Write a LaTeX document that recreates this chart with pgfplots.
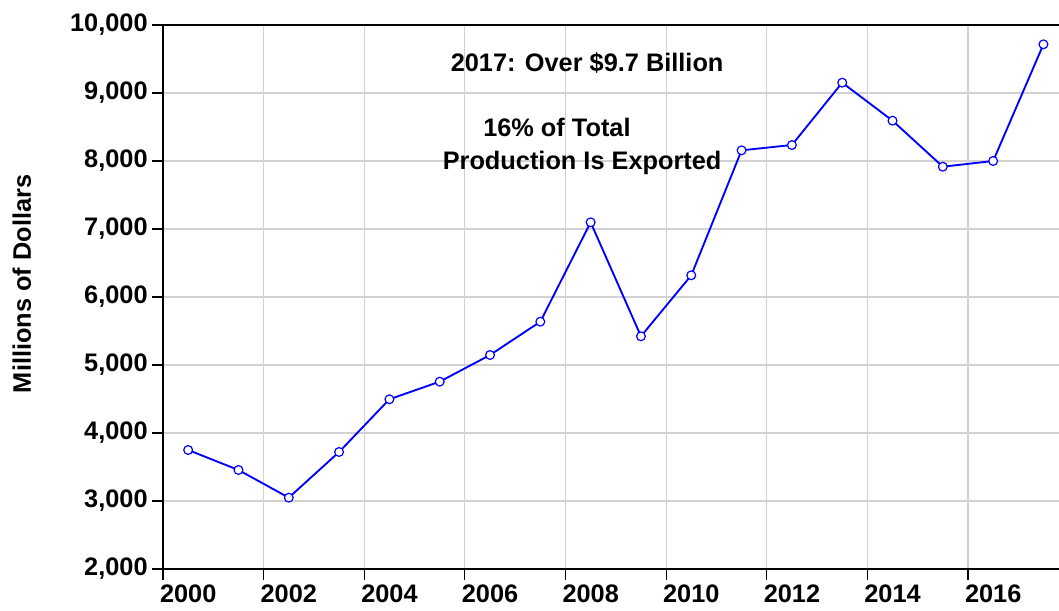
\documentclass[border=0pt]{standalone}
\usepackage{fontspec}
\setmainfont{Liberation Sans}
\usepackage{pgfplots}
\pgfplotsset{compat=1.18}
\newcommand\lbl{\fontsize{19}{22}\selectfont\bfseries}
\definecolor{lineBlue}{RGB}{0,0,255}
\definecolor{gridGray}{RGB}{210,210,210}
\begin{document}
\begin{tikzpicture}
\useasboundingbox (0,0) rectangle (794.25pt,457.5pt);
\begin{axis}[
    at={(122.25pt,30.75pt)}, anchor=south west,
    scale only axis,
    width=679.2pt, height=408pt,
    xmin=2000, xmax=2018,
    ymin=2000, ymax=10000,
    xtick={2000,2002,...,2016},
    xticklabels={2000,2002,2004,2006,2008,2010,2012,2014,2016},
    xticklabel style={xshift=18.9pt},
    minor x tick num=1,
    ytick={2000,3000,...,10000},
    scaled y ticks=false,
    /pgf/number format/.cd, 1000 sep={,}, assume math mode=true,
    /pgfplots/.cd,
    tick label style={font=\lbl},
    tick pos=left,
    tick align=outside,
    major tick length=8pt,
    minor tick length=8pt,
    every tick/.style={black, line width=0.8pt},
    grid=major,
    major grid style={gridGray, line width=0.8pt},
    axis line style={black, line width=1pt},
    ylabel={\lbl Millions of Dollars},
    every axis y label/.style={at={(axis description cs:-0.156,0.524)}, rotate=90, anchor=center},
]
\addplot[lineBlue, line width=1.4pt, mark=*, mark size=3.3pt,
    mark options={fill=white, draw=lineBlue, line width=0.9pt}] coordinates {
    (2000.5,3750) (2001.5,3456) (2002.5,3049) (2003.5,3721)
    (2004.5,4496) (2005.5,4755) (2006.5,5147) (2007.5,5637)
    (2008.5,7098) (2009.5,5422) (2010.5,6319) (2011.5,8157)
    (2012.5,8235) (2013.5,9152) (2014.5,8593) (2015.5,7916)
    (2016.5,8000) (2017.5,9716)
};
\node[anchor=base, font=\lbl] at (axis cs:2008.43,9313) {2017: Over \$9.7 Billion};
\node[anchor=base, font=\lbl] at (axis cs:2007.83,8357) {16\% of Total};
\node[anchor=base, font=\lbl] at (axis cs:2008.33,7882) {Production Is Exported};
\end{axis}
\end{tikzpicture}
\end{document}
